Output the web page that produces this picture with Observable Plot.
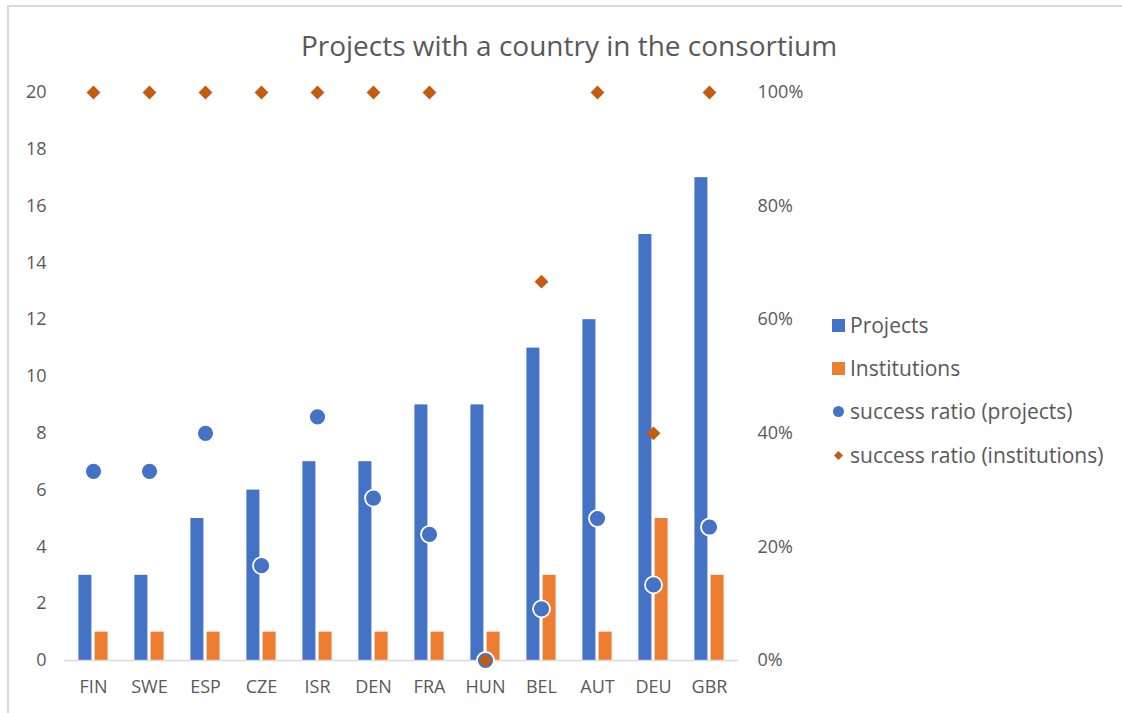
<!DOCTYPE html>
<html>
<head>
<meta charset="utf-8">
<script src="https://cdn.jsdelivr.net/npm/d3@7"></script>
<script src="https://cdn.jsdelivr.net/npm/@observablehq/plot@0.6"></script>
<style>
  body { margin: 0; background: #fff; }
  #wrap { position: relative; width: 1122px; height: 713px; overflow: hidden; font-family: "Open Sans", sans-serif; }
  #frame { position: absolute; left: 7px; top: 5px; right: -5px; bottom: -5px; border-left: 2px solid #d9d9d9; border-top: 2px solid #d9d9d9; }
  #title { position: absolute; top: 26px; left: 0; width: 1138px; text-align: center; font-size: 28px; color: #595959; }
  #chart { position: absolute; left: 0; top: 0; }
  .leg { position: absolute; left: 832px; font-size: 21px; color: #595959; display: flex; align-items: center; height: 28px; white-space: nowrap; }
  .leg .sw { display: inline-block; margin-right: 5px; }
</style>
</head>
<body>
<div id="wrap">
  <div id="frame"></div>
  <div id="chart"></div>
  <div id="title">Projects with a country in the consortium</div>
  <div id="legend"></div>
</div>
<script>
const countries = ["FIN","SWE","ESP","CZE","ISR","DEN","FRA","HUN","BEL","AUT","DEU","GBR"];
const projects = [3,3,5,6,7,7,9,9,11,12,15,17];
const institutions = [1,1,1,1,1,1,1,1,3,1,5,3];
const ratioProjects = [0.333,0.333,0.4,0.167,0.429,0.286,0.222,0,0.091,0.25,0.133,0.235];
const ratioInstitutions = [1,1,1,1,1,1,1,0,0.667,1,0.4,1];
const leftTicks = [0,2,4,6,8,10,12,14,16,18,20];
const rightTicks = [0,0.2,0.4,0.6,0.8,1];
const seriesNames = ["Projects","Institutions","success ratio (projects)","success ratio (institutions)"];
const colors = ["#4472c4","#ed7d31","#4472c4","#c55a11"];

const data = countries.map((c, i) => ({country: c, p: projects[i], inst: institutions[i], rp: ratioProjects[i], ri: ratioInstitutions[i]}));
const K = 20; // right axis scale factor (100% -> 20)

const chart = Plot.plot({
  width: 1122,
  height: 713,
  marginLeft: 64,
  marginRight: 384,
  marginTop: 92,
  marginBottom: 53,
  style: {fontFamily: "Open Sans, sans-serif", fontSize: "18px", color: "#595959", background: "transparent"},
  x: {domain: countries, padding: 0},
  y: {domain: [0, 20]},
  marks: [
    Plot.axisY({anchor: "left", ticks: leftTicks, tickSize: 0, tickPadding: 18, label: null}),
    Plot.axisY({anchor: "right", ticks: rightTicks.map(t => t * K), tickSize: 0, tickPadding: 19, label: null, tickFormat: d => Math.round(d / K * 100) + "%"}),
    Plot.axisX({anchor: "bottom", tickSize: 0, tickPadding: 20, label: null}),
    Plot.barY(data, {x: "country", y: "p", fill: colors[0], insetLeft: 13.4, insetRight: 29.6}),
    Plot.barY(data, {x: "country", y: "inst", fill: colors[1], insetLeft: 29.6, insetRight: 13.4}),
    Plot.ruleY([0], {stroke: "#d9d9d9", strokeWidth: 1.5}),
    Plot.dot(data, {x: "country", y: d => d.rp * K, r: 8.5, fill: colors[2], stroke: "#fff", strokeWidth: 1.8}),
    Plot.dot(data, {x: "country", y: d => d.ri * K, r: 6.2, symbol: "diamond2", fill: colors[3], stroke: "none"})
  ]
});
document.getElementById("chart").appendChild(chart);

// legend
const legend = document.getElementById("legend");
const legendY = [325, 368, 411, 455];
seriesNames.forEach((name, i) => {
  const row = document.createElement("div");
  row.className = "leg";
  row.style.top = (legendY[i] - 14) + "px";
  let sw;
  if (i < 2) {
    sw = `<svg class="sw" width="13" height="13"><rect width="13" height="13" fill="${colors[i]}"/></svg>`;
  } else if (i === 2) {
    sw = `<svg class="sw" width="13" height="13"><circle cx="6.5" cy="6.5" r="5.5" fill="${colors[i]}"/></svg>`;
  } else {
    sw = `<svg class="sw" width="13" height="13"><path d="M6.5 2 L11 6.5 L6.5 11 L2 6.5Z" fill="${colors[i]}"/></svg>`;
  }
  row.innerHTML = sw + `<span>${name}</span>`;
  legend.appendChild(row);
});
</script>
</body>
</html>
